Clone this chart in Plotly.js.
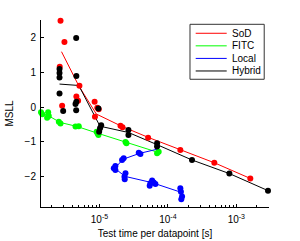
<!DOCTYPE html>
<html>
<head>
<meta charset="utf-8">
<script src="https://cdn.plot.ly/plotly-3.0.1.min.js"></script>
<style>html,body{margin:0;padding:0;background:#fff;}#chart{width:300px;height:241px;}</style>
</head>
<body>
<div id="chart"></div>
<script>
// ---- data ----
const seriesNames = ["SoD", "FITC", "Local", "Hybrid"];
const seriesColors = ["#ff0000", "#00ff00", "#0000ff", "#000000"];

// SoD
const sodX = [2.70e-6, 3.08e-6, 2.63e-6, 2.85e-6, 5.1e-6, 4.6e-6, 4.88e-6, 8.5e-6, 9.3e-6, 9.77e-6, 8.6e-6, 2.03e-5, 2.17e-5, 5.14e-5, 1.52e-4, 4.77e-4, 1.60e-3];
const sodY = [2.48, 1.87, 1.16, 0.04, 0.61, 0.30, 0.18, 0.15, -0.02, -0.06, -0.28, -0.54, -0.58, -0.88, -1.23, -1.60, -2.05];
const sodLineX = [2.79e-6, 4.99e-6, 9.0e-6, 2.1e-5, 5.14e-5, 1.52e-4, 4.77e-4, 1.60e-3];
const sodLineY = [1.59, 0.61, -0.20, -0.55, -0.87, -1.23, -1.60, -2.05];

// FITC
const fitcX = [1.40e-6, 1.46e-6, 1.78e-6, 1.82e-6, 1.72e-6, 2.55e-6, 2.70e-6, 4.47e-6, 4.99e-6, 9.1e-6, 9.4e-6, 9.66e-6, 2.40e-5, 2.48e-5, 6.95e-5, 7.34e-5];
const fitcY = [-0.15, -0.21, -0.15, -0.26, -0.31, -0.42, -0.47, -0.56, -0.55, -0.71, -0.76, -0.80, -1.00, -1.04, -1.33, -1.28];
const fitcLineX = [1.42e-6, 1.77e-6, 2.65e-6, 4.75e-6, 9.35e-6, 2.44e-5, 7.15e-5];
const fitcLineY = [-0.18, -0.24, -0.44, -0.56, -0.75, -1.02, -1.30];

// Local
const localX = [3.75e-5, 3.97e-5, 2.14e-5, 2.26e-5, 1.71e-5, 1.62e-5, 1.71e-5, 2.40e-5, 2.32e-5, 2.34e-5, 5.88e-5, 5.55e-5, 6.21e-5, 5.42e-5, 6.57e-5, 1.52e-4, 1.55e-4, 1.61e-4, 1.57e-4];
const localY = [-1.31, -1.35, -1.52, -1.47, -1.69, -1.76, -1.81, -1.90, -2.00, -2.07, -2.11, -2.19, -2.17, -2.26, -2.21, -2.33, -2.43, -2.57, -2.65];
const localLineX = [7.0e-5, 3.86e-5, 2.20e-5, 1.68e-5, 2.36e-5, 5.85e-5, 1.57e-4];
const localLineY = [-1.21, -1.33, -1.50, -1.76, -1.99, -2.17, -2.45];

// Hybrid
const hybX = [4.57e-6, 2.61e-6, 2.61e-6, 2.61e-6, 4.6e-6, 2.61e-6, 2.95e-6, 4.6e-6, 4.47e-6, 4.57e-6, 9.66e-6, 1.06e-5, 1.02e-5, 9.9e-6, 2.65e-5, 2.65e-5, 6.95e-5, 6.95e-5, 2.25e-4, 7.91e-4, 2.90e-3];
const hybY = [1.98, 1.09, 0.98, 0.85, 0.89, 0.39, -0.11, 0.15, 0.09, -0.09, -0.04, -0.52, -0.61, -0.71, -0.66, -0.80, -1.04, -1.13, -1.52, -1.91, -2.40];
const hybLineX = [2.61e-6, 4.99e-6, 1.02e-5, 2.65e-5, 6.95e-5, 2.25e-4, 7.91e-4, 2.90e-3];
const hybLineY = [0.66, 0.62, -0.55, -0.73, -1.08, -1.52, -1.91, -2.40];

const xTickExps = [-5, -4, -3];
const yTicks = [-2, -1, 0, 1, 2];
const xTitle = "Test time per datapoint [s]";
const yTitle = "MSLL";

// ---- build ----
const pts = [[sodX, sodY], [fitcX, fitcY], [localX, localY], [hybX, hybY]];
const lines = [[sodLineX, sodLineY], [fitcLineX, fitcLineY], [localLineX, localLineY], [hybLineX, hybLineY]];
const traces = [];
for (let i = 0; i < 4; i++) {
  traces.push({x: lines[i][0], y: lines[i][1], type: 'scatter', mode: 'lines',
    line: {color: seriesColors[i], width: 1}, showlegend: false, cliponaxis: false, hoverinfo: 'skip'});
}
for (let i = 0; i < 4; i++) {
  traces.push({x: pts[i][0], y: pts[i][1], type: 'scatter', mode: 'markers',
    marker: {color: seriesColors[i], size: 6, line: {width: 0}}, showlegend: false, cliponaxis: false});
}

const minorVals = [];
for (let e = -6; e <= -3; e++) for (let m = 2; m <= 9; m++) minorVals.push(m * Math.pow(10, e));

// manual legend (MATLAB-style compact box)
const lgX0 = 0.6535, lgX1 = 0.979, lgY0 = 0.683, lgY1 = 0.977;
const fontFam = 'Liberation Sans, Arial, sans-serif';
const shapes = [{type: 'rect', xref: 'paper', yref: 'paper', x0: lgX0, x1: lgX1, y0: lgY0, y1: lgY1,
  line: {color: '#333', width: 1}, fillcolor: '#fff', layer: 'above'}];
const annotations = [];
for (let i = 0; i < 4; i++) {
  const yy = 0.929 - i * 0.0672;
  shapes.push({type: 'line', xref: 'paper', yref: 'paper', x0: 0.6785, x1: 0.8145, y0: yy, y1: yy,
    line: {color: seriesColors[i], width: 1}, layer: 'above'});
  annotations.push({xref: 'paper', yref: 'paper', x: 0.829, y: yy, xanchor: 'left', yanchor: 'middle',
    text: seriesNames[i], showarrow: false, font: {size: 10, color: '#000', family: fontFam}});
}

const layout = {
  width: 300, height: 241,
  margin: {l: 41, r: 31, t: 20, b: 34, pad: 0},
  paper_bgcolor: '#fff', plot_bgcolor: '#fff',
  font: {family: fontFam, size: 10, color: '#000'},
  showlegend: false,
  xaxis: {
    type: 'log', range: [Math.log10(1.4e-6), Math.log10(3.0e-3)],
    tickmode: 'array', tickvals: xTickExps.map(e => Math.pow(10, e)),
    ticktext: xTickExps.map(e => '10<sup>' + e + '</sup>'),
    ticks: 'inside', ticklen: 3, tickcolor: '#000', showline: true, linecolor: '#000', linewidth: 1,
    showgrid: false, zeroline: false, mirror: false, ticklabelstandoff: 3,
    minor: {tickmode: 'array', tickvals: minorVals, ticks: 'inside', ticklen: 2, tickcolor: '#000', showgrid: false},
    title: {text: xTitle, font: {size: 10, family: fontFam}, standoff: 5},
    tickfont: {size: 10, family: fontFam}
  },
  yaxis: {
    range: [-2.87, 2.5], tickmode: 'array', tickvals: yTicks,
    ticks: 'inside', ticklen: 3, tickcolor: '#000', showline: true, linecolor: '#000', linewidth: 1,
    showgrid: false, zeroline: false, mirror: false, ticklabelstandoff: 2,
    title: {text: yTitle, font: {size: 10, family: fontFam}, standoff: 9},
    tickfont: {size: 10, family: fontFam}
  },
  shapes: shapes, annotations: annotations
};
Plotly.newPlot('chart', traces, layout, {displayModeBar: false, staticPlot: true});
</script>
</body>
</html>
